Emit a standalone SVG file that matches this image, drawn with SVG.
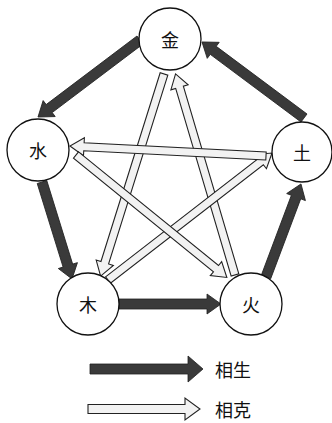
<svg xmlns="http://www.w3.org/2000/svg" width="332" height="423" viewBox="0 0 332 423">
<style>
.node circle{fill:#fff;stroke:#111;stroke-width:1.3}
text{font-family:"Noto Sans CJK SC","Noto Sans",sans-serif;font-size:18px;fill:#111;text-anchor:middle;dominant-baseline:central}
.gen{fill:#3a3a3a;stroke:#222;stroke-width:0.8}
.ke{fill:#f2f2f2;stroke:#222;stroke-width:1.1}
.legend text{text-anchor:start}
</style>
<g id="connectors">
<path class="gen" transform="translate(140,40) rotate(142.95)" d="M0,-5H113.8V-10L127.8,0L113.8,10V5H0Z"/>
<path class="gen" transform="translate(42,182) rotate(72.8)" d="M0,-5H87.5V-10L101.5,0L87.5,10V5H0Z"/>
<path class="gen" transform="translate(119,304)" d="M0,-5H88V-10L102,0L88,10V5H0Z"/>
<path class="gen" transform="translate(266,277) rotate(-69.4)" d="M0,-5H85.4V-10L99.4,0L85.4,10V5H0Z"/>
<path class="gen" transform="translate(304,118) rotate(-143.3)" d="M0,-5H113.2V-10L127.2,0L113.2,10V5H0Z"/>
<path class="ke" transform="translate(164,74) rotate(107.42)" d="M0,-4H197.8V-9L211.8,0L197.8,9V4H0Z"/>
<path class="ke" transform="translate(235,275) rotate(-106.47)" d="M0,-4H195.7V-9L209.7,0L195.7,9V4H0Z"/>
<path class="ke" transform="translate(108,280) rotate(-37.75)" d="M0,-4H193.4V-9L207.4,0L193.4,9V4H0Z"/>
<path class="ke" transform="translate(266,156) rotate(-177.1)" d="M0,-4H182.3V-9L196.3,0L182.3,9V4H0Z"/>
<path class="ke" transform="translate(76,155) rotate(39.07)" d="M0,-4H180.3V-9L194.3,0L180.3,9V4H0Z"/>
</g>
<g id="jin" class="node"><circle cx="170" cy="39" r="31"/><text x="170" y="39">金</text></g>
<g id="shui" class="node"><circle cx="38" cy="150" r="31"/><text x="38" y="150">水</text></g>
<g id="tu" class="node"><circle cx="302" cy="152" r="30"/><text x="302" y="152">土</text></g>
<g id="mu" class="node"><circle cx="88" cy="304" r="31"/><text x="88" y="304">木</text></g>
<g id="huo" class="node"><circle cx="251" cy="304" r="31"/><text x="251" y="304">火</text></g>
<g id="legend" class="legend">
<path class="gen" transform="translate(90,369)" d="M0,-5H98V-13L113,0L98,13V5H0Z"/>
<text x="215" y="369">相生</text>
<path class="ke" transform="translate(88,409)" d="M0,-4.5H97V-11L112,0L97,11V4.5H0Z"/>
<text x="215" y="409">相克</text>
</g>
</svg>
